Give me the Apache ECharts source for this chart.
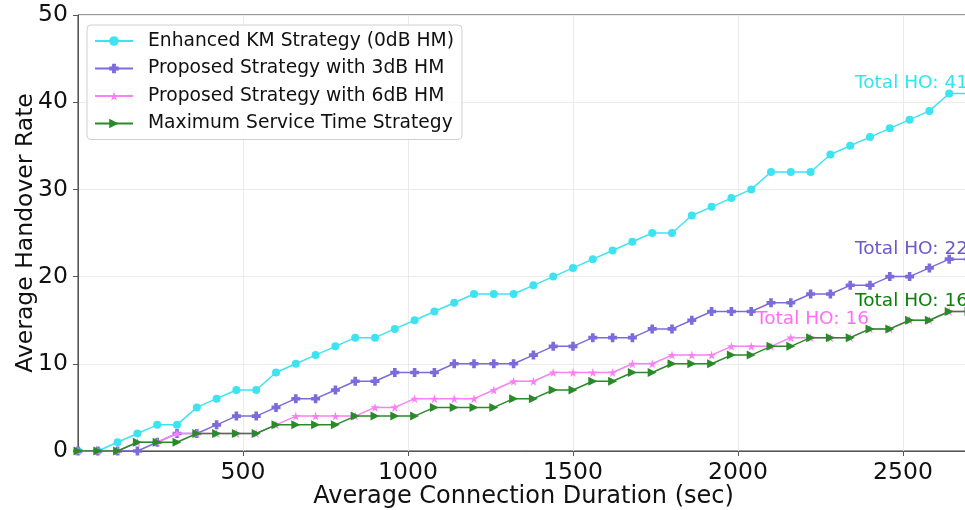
<!DOCTYPE html>
<html>
<head>
<meta charset="utf-8">
<script src="https://cdn.jsdelivr.net/npm/echarts@6/dist/echarts.min.js"></script>
<style>
  html, body { margin: 0; padding: 0; background: #fff; }
  #chart { width: 965px; height: 510px; }
</style>
</head>
<body>
<div id="chart"></div>
<script>
// Connection duration samples (sec)
const durations = [0, 60, 120, 180, 240, 300, 360, 420, 480, 540,
  600, 660, 720, 780, 840, 900, 960, 1020, 1080, 1140,
  1200, 1260, 1320, 1380, 1440, 1500, 1560, 1620, 1680, 1740,
  1800, 1860, 1920, 1980, 2040, 2100, 2160, 2220, 2280, 2340,
  2400, 2460, 2520, 2580, 2640, 2700];

// Cumulative handover counts per strategy
const enhancedKM = [0, 0, 1, 2, 3, 3, 5, 6, 7, 7,
  9, 10, 11, 12, 13, 13, 14, 15, 16, 17,
  18, 18, 18, 19, 20, 21, 22, 23, 24, 25,
  25, 27, 28, 29, 30, 32, 32, 32, 34, 35,
  36, 37, 38, 39, 41, 41];
const proposed3dB = [0, 0, 0, 0, 1, 2, 2, 3, 4, 4,
  5, 6, 6, 7, 8, 8, 9, 9, 9, 10,
  10, 10, 10, 11, 12, 12, 13, 13, 13, 14,
  14, 15, 16, 16, 16, 17, 17, 18, 18, 19,
  19, 20, 20, 21, 22, 22];
const proposed6dB = [0, 0, 0, 1, 1, 2, 2, 2, 2, 2,
  3, 4, 4, 4, 4, 5, 5, 6, 6, 6,
  6, 7, 8, 8, 9, 9, 9, 9, 10, 10,
  11, 11, 11, 12, 12, 12, 13, 13, 13, 13,
  14, 14, 15, 15, 16, 16];
const maxServiceTime = [0, 0, 0, 1, 1, 1, 2, 2, 2, 2,
  3, 3, 3, 3, 4, 4, 4, 4, 5, 5,
  5, 5, 6, 6, 7, 7, 8, 8, 9, 9,
  10, 10, 10, 11, 11, 12, 12, 13, 13, 13,
  14, 14, 15, 15, 16, 16];

const seriesNames = [
  'Enhanced KM Strategy (0dB HM)',
  'Proposed Strategy with 3dB HM',
  'Proposed Strategy with 6dB HM',
  'Maximum Service Time Strategy'
];
const totalLabels = ['Total HO: 41', 'Total HO: 22', 'Total HO: 16', 'Total HO: 16'];
const xTicks = [500, 1000, 1500, 2000, 2500];
const yTicks = [0, 10, 20, 30, 40, 50];

const FONT = 'DejaVu Sans';
const lineColors = ['#3ee3f2', '#7b6cdc', '#fa80f6', '#2a8a2a'];
const labelColors = ['#2ee6f2', '#6a5acd', '#ff6ef8', '#0a800a'];
const symbols = [
  'circle',
  'path://M3,0 H7 V3 H10 V7 H7 V10 H3 V7 H0 V3 H3 Z',
  'path://M50,0 L61,35 L98,35 L68,57 L79,91 L50,70 L21,91 L32,57 L2,35 L39,35 Z',
  'path://M0,0 L10,5 L0,10 Z'
];
const symbolSizes = [8, 9, 9, [9, 9]];
const values = [enhancedKM, proposed3dB, proposed6dB, maxServiceTime];

// annotation anchor: x position and vertical offset for each total label
const labelAnchorX = [2700, 2700, 2400, 2700];
const labelOffsetY = [-10, -10, 8, -10];

const chart = echarts.init(document.getElementById('chart'), null, { renderer: 'canvas' });

const series = values.map((vals, i) => {
  const last = vals[vals.length - 1];
  return {
    name: seriesNames[i],
    type: 'line',
    data: durations.map((d, k) => [d, vals[k]]),
    symbol: symbols[i],
    symbolSize: symbolSizes[i],
    showAllSymbol: true,
    lineStyle: { color: lineColors[i], width: 1.5 },
    itemStyle: { color: lineColors[i] },
    z: 2 + i,
    animation: false,
    markPoint: {
      symbol: 'circle',
      symbolSize: 0,
      animation: false,
      data: [{
        coord: [labelAnchorX[i], last],
        label: {
          show: true,
          formatter: totalLabels[i],
          position: 'inside',
          align: 'right',
          verticalAlign: 'middle',
          offset: [-1, labelOffsetY[i]],
          color: labelColors[i],
          fontFamily: FONT,
          fontSize: 18.5
        }
      }]
    }
  };
});

chart.setOption({
  backgroundColor: '#ffffff',
  animation: false,
  grid: {
    // the plot area runs slightly past the right edge of the canvas
    left: 78, top: 15, width: 891, height: 436,
    containLabel: false,
    outerBoundsMode: 'none',
    show: true, borderColor: '#333', borderWidth: 1, backgroundColor: 'transparent'
  },
  legend: {
    orient: 'vertical',
    left: 87, top: 25,
    padding: [6, 8, 6, 7],
    itemWidth: 38, itemHeight: 12,
    itemGap: 7.5,
    backgroundColor: 'rgba(255,255,255,0.85)',
    borderColor: '#d0d0d0', borderWidth: 1, borderRadius: 4,
    textStyle: { fontFamily: FONT, fontSize: 18.7, color: '#111', lineHeight: 20, padding: [0, 0, 0, 10] },
    data: seriesNames
  },
  xAxis: {
    type: 'value',
    min: 0, max: 2700, interval: 500,
    name: 'Average Connection Duration (sec)',
    nameLocation: 'middle', nameGap: 34,
    nameMoveOverlap: false,
    nameTextStyle: { fontFamily: FONT, fontSize: 24, color: '#111' },
    axisLine: { show: true, onZero: false, lineStyle: { color: '#555', width: 1 } },
    axisTick: { show: true, inside: false, length: 5, lineStyle: { color: '#555' } },
    axisLabel: {
      fontFamily: FONT, fontSize: 23.5, color: '#111', margin: 10,
      showMinLabel: false, showMaxLabel: false,
      formatter: v => (xTicks.indexOf(v) >= 0 ? String(v) : '')
    },
    splitLine: { show: true, lineStyle: { color: '#ebebeb', width: 1 } }
  },
  yAxis: {
    type: 'value',
    min: 0, max: 50, interval: 10,
    name: 'Average Handover Rate',
    nameLocation: 'middle', nameGap: 40,
    nameMoveOverlap: false,
    nameTextStyle: { fontFamily: FONT, fontSize: 23.5, color: '#111' },
    axisLine: { show: true, lineStyle: { color: '#555', width: 1 } },
    axisTick: { show: true, inside: false, length: 5, lineStyle: { color: '#555' } },
    axisLabel: {
      fontFamily: FONT, fontSize: 23.5, color: '#111', margin: 10,
      formatter: v => (yTicks.indexOf(v) >= 0 ? String(v) : '')
    },
    splitLine: { show: true, lineStyle: { color: '#ebebeb', width: 1 } }
  },
  series: series
});
</script>
</body>
</html>
